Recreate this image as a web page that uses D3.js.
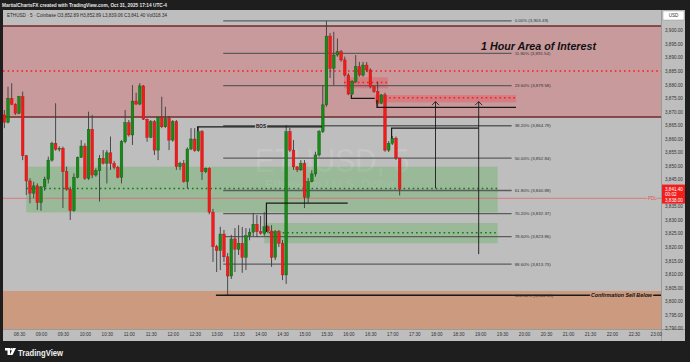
<!DOCTYPE html>
<html>
<head>
<meta charset="utf-8">
<script src="https://cdn.jsdelivr.net/npm/d3@7"></script>
<style>
  body { margin: 0; background: #1e1e1e; }
  svg { display: block; }
  text { font-family: "Liberation Sans", Arial, sans-serif; }
</style>
</head>
<body>
<svg id="chart" width="690" height="362"></svg>
<script>
// ETHUSD 5m candles, 08:10 -> 17:10 (Oct 31, 2025)
const openPrices = [3868.8,3866.1,3874.9,3872.7,3869.4,3875.5,3853.7,3844.4,3839.9,3842.6,3836.4,3842.2,3845.1,3852.1,3858.3,3856.1,3856.5,3847.8,3841.3,3833.4,
  3845.8,3853.1,3857.3,3845.4,3863.5,3846.6,3848.2,3852.8,3850.9,3854.8,3850.9,3849.4,3845.8,3858.9,3865.9,3861.4,3873.9,3872.8,3879.5,3867.2,
  3860.5,3866.3,3855.8,3867.9,3864.4,3867.5,3859.5,3866.3,3849.7,3850.9,3844.1,3856.2,3859.9,3855.6,3862.6,3847.8,3849.1,3832.9,3820.1,3818.7,
  3824.8,3816.4,3809.3,3823.0,3819.2,3821.4,3816.2,3824.2,3825.5,3828.4,3825.7,3825.1,3827.5,3825.9,3816.2,3825.7,3821.4,3809.7,3862.6,3855.8,
  3849.6,3848.5,3850.9,3838.4,3844.1,3847.0,3854.0,3862.6,3872.5,3897.9,3886.0,3890.9,3892.1,3889.1,3883.5,3876.5,3881.1,3886.6,3883.5,3887.2,
  3885.4,3879.2,3877.4,3873.1,3876.2,3855.8,3858.3,3860.2,3852.89];
const highPrices = [3870.6,3879.2,3880.5,3873.1,3875.8,3877.4,3854.0,3845.4,3844.1,3843.5,3842.5,3846.0,3853.4,3858.9,3873.1,3857.2,3857.1,3849.7,3842.3,3847.2,
  3853.4,3859.5,3858.3,3870.0,3868.8,3849.1,3854.0,3855.8,3855.8,3860.8,3851.8,3850.0,3859.5,3870.6,3866.9,3879.8,3877.0,3880.5,3879.8,3867.5,
  3866.9,3866.9,3868.1,3875.5,3871.8,3868.4,3866.9,3866.9,3851.5,3852.1,3856.8,3863.9,3863.9,3864.4,3863.2,3849.4,3849.5,3834.1,3820.8,3827.5,
  3826.3,3817.8,3824.5,3827.0,3828.1,3827.4,3827.0,3826.9,3832.6,3831.8,3831.5,3832.9,3828.0,3828.1,3826.3,3826.3,3822.6,3865.1,3864.0,3859.5,
  3849.9,3852.1,3852.1,3845.5,3848.4,3855.2,3863.2,3879.8,3903.49,3899.0,3899.5,3897.0,3892.8,3890.3,3884.2,3881.7,3890.9,3888.4,3888.4,3888.3,
  3886.0,3879.5,3881.1,3876.5,3877.0,3859.1,3861.0,3860.8,3852.89];
const lowPrices = [3863.9,3865.7,3872.4,3868.8,3869.1,3852.1,3839.2,3836.2,3838.0,3833.7,3833.4,3840.8,3843.5,3851.5,3855.6,3855.3,3834.4,3840.8,3830.0,3833.0,
  3845.4,3852.9,3844.8,3844.8,3845.4,3846.0,3836.8,3850.5,3843.5,3848.5,3848.7,3845.4,3843.5,3858.3,3860.8,3857.7,3872.5,3872.4,3866.9,3858.9,
  3860.2,3854.0,3852.1,3863.9,3864.0,3855.8,3858.9,3848.5,3848.4,3843.8,3841.7,3855.8,3855.2,3855.2,3844.8,3847.3,3832.1,3814.5,3810.8,3811.5,
  3814.5,3802.18,3808.2,3810.8,3817.1,3810.5,3811.5,3822.5,3824.0,3823.7,3824.6,3824.1,3825.2,3812.7,3815.2,3820.0,3807.8,3806.4,3855.1,3848.5,
  3847.7,3848.1,3834.4,3836.3,3843.9,3846.0,3853.4,3862.1,3871.8,3882.4,3879.8,3890.3,3888.4,3882.9,3876.1,3876.1,3880.5,3882.9,3882.9,3884.6,
  3878.6,3876.9,3871.8,3872.8,3855.2,3855.1,3857.7,3852.1,3839.06];
const closePrices = [3866.1,3874.9,3872.7,3869.4,3875.5,3853.7,3844.4,3839.9,3842.6,3836.4,3842.2,3845.1,3852.1,3858.3,3856.1,3856.5,3847.8,3841.3,3833.4,3845.8,
  3853.1,3857.3,3845.4,3863.5,3846.6,3848.2,3852.8,3850.9,3854.8,3850.9,3849.4,3845.8,3858.9,3865.9,3861.4,3873.9,3872.8,3879.5,3867.2,3860.5,
  3866.3,3855.8,3867.9,3864.4,3867.5,3859.5,3866.3,3849.7,3850.9,3844.1,3856.2,3859.9,3855.6,3862.6,3847.8,3849.1,3832.9,3820.1,3818.7,3824.8,
  3816.4,3809.3,3823.0,3819.2,3821.4,3816.2,3824.2,3825.5,3828.4,3825.7,3825.1,3827.5,3825.9,3816.2,3825.7,3821.4,3809.7,3862.6,3855.8,3849.6,
  3848.5,3850.9,3838.4,3844.1,3847.0,3854.0,3862.6,3872.5,3897.9,3886.0,3890.9,3892.1,3889.1,3883.5,3876.5,3881.1,3886.6,3883.5,3887.2,3885.4,
  3879.2,3877.4,3873.1,3876.2,3855.8,3858.3,3860.2,3852.89,3841.40];

const priceTicks = [3790,3795,3800,3805,3810,3815,3820,3825,3830,3835,3840,3845,3850,3855,3860,3865,3870,3875,3880,3885,3890,3895,3900];
const timeTickLabels = ["08:30","09:00","09:30","10:00","10:30","11:00","11:30","12:00","12:30","13:00","13:30","14:00","14:30","15:00","15:30",
  "16:00","16:30","17:00","17:30","18:00","18:30","19:00","19:30","20:00","20:30","21:00","21:30","22:00","22:30","23:00"];

// Fibonacci retracement (high 3,903.49 -> low 3,802.18)
const fibLevels = [0, 0.118, 0.236, 0.382, 0.5, 0.618, 0.702, 0.786, 0.886, 1];
const fibPrices = [3903.49, 3891.54, 3879.58, 3864.79, 3852.84, 3840.88, 3832.37, 3823.86, 3813.73, 3802.18];

// Zones: [start, end, top price, bottom price]
const greenZones = [["08:40", "19:24", 3849.7, 3832.8], ["14:05", "19:24", 3828.9, 3821.4]];
const greenDotted = [["08:40", "19:24", 3841.6], ["14:05", "19:24", 3825.3]];
const smallRedZones = [["15:54", "16:54", 3882.7, 3878.6], ["16:36", "19:49", 3876.1, 3873.4]];
const redDotted = [["15:54", "16:54", 3880.8], ["16:43", "19:49", 3875.1]];
const areaOfInterest = [3901.6, 3868.0];
const aoiLevel = 3885.0;
const sellZoneTop = 3803.8;
const pdlPrice = 3838.0;

// Structure lines: [time, price] points
const structureLines = [
  [["12:34", 3862.8], ["12:34", 3864.4], ["15:24", 3864.4]],
  [["14:08", 3825.6], ["14:08", 3836.2], ["15:59", 3836.2]],
  [["16:04", 3876.2], ["16:04", 3874.9], ["16:36", 3874.9]],
  [["16:39", 3874.3], ["16:39", 3871.6], ["19:49", 3871.6]],
  [["16:59", 3860.2], ["16:59", 3863.9], ["18:58", 3863.9]]
];
const arrows = [["17:59", 3841.7, 3873.7], ["18:58", 3817.4, 3873.7]];

const svg = d3.select('#chart');
const W = 690, H = 362;
const plotL = 3, plotR = 661, plotT = 10, plotB = 329, axisR = 685, timeB = 341;

const at = (s) => {
  const [h, m, sec] = s.split(':').map(Number);
  return new Date(2025, 9, 31, h, m, sec || 0);
};

const xScale = d3.scaleTime()
  .domain([at("08:04:02"), at("23:07:03")])
  .range([0, plotR]);
const yScale = d3.scaleLinear()
  .domain([3790, 3900])
  .range([328.3, 30.4]);

// Background panels
svg.append('rect').attr('width', W).attr('height', H).attr('fill', '#1e1e1e');
svg.append('rect')
  .attr('x', plotL).attr('y', plotT)
  .attr('width', axisR - plotL).attr('height', timeB - plotT)
  .attr('fill', '#bebebe');

svg.append('defs').append('clipPath').attr('id', 'plot-clip')
  .append('rect')
  .attr('x', plotL).attr('y', plotT)
  .attr('width', plotR - plotL).attr('height', plotB - plotT);

const plot = svg.append('g').attr('clip-path', 'url(#plot-clip)');

// Watermark
plot.append('text')
  .attr('x', 332).attr('y', 172)
  .attr('text-anchor', 'middle')
  .attr('font-size', 34)
  .attr('textLength', 155).attr('lengthAdjust', 'spacingAndGlyphs')
  .attr('fill', '#ffffff').attr('fill-opacity', 0.12)
  .text('ETHUSD, 5');
plot.append('text')
  .attr('x', 330).attr('y', 188)
  .attr('text-anchor', 'middle')
  .attr('font-size', 11)
  .attr('textLength', 130).attr('lengthAdjust', 'spacingAndGlyphs')
  .attr('fill', '#ffffff').attr('fill-opacity', 0.12)
  .text('Ethereum / U.S. Dollar');

// 1 hour area of interest
plot.append('rect')
  .attr('x', plotL).attr('width', plotR - plotL)
  .attr('y', yScale(areaOfInterest[0]))
  .attr('height', yScale(areaOfInterest[1]) - yScale(areaOfInterest[0]))
  .attr('fill', 'rgba(230,60,70,0.28)');
areaOfInterest.forEach(p => {
  plot.append('line')
    .attr('x1', plotL).attr('x2', plotR)
    .attr('y1', yScale(p)).attr('y2', yScale(p))
    .attr('stroke', '#6e2b2b').attr('stroke-width', 1.4);
});

// Sell confirmation zone
plot.append('rect')
  .attr('x', plotL).attr('width', plotR - plotL)
  .attr('y', yScale(sellZoneTop))
  .attr('height', plotB - yScale(sellZoneTop))
  .attr('fill', 'rgba(220,110,50,0.45)');

// Small red zones
smallRedZones.forEach(z => {
  plot.append('rect')
    .attr('x', xScale(at(z[0]))).attr('width', xScale(at(z[1])) - xScale(at(z[0])))
    .attr('y', yScale(z[2])).attr('height', yScale(z[3]) - yScale(z[2]))
    .attr('fill', 'rgba(240,60,70,0.3)');
});

// Green zones
greenZones.forEach(z => {
  plot.append('rect')
    .attr('x', xScale(at(z[0]))).attr('width', xScale(at(z[1])) - xScale(at(z[0])))
    .attr('y', yScale(z[2])).attr('height', yScale(z[3]) - yScale(z[2]))
    .attr('fill', 'rgba(70,175,70,0.3)');
});

// Previous day low line
plot.append('line')
  .attr('x1', plotL).attr('x2', plotR)
  .attr('y1', yScale(pdlPrice)).attr('y2', yScale(pdlPrice))
  .attr('stroke', '#e06868').attr('stroke-width', 0.8);
plot.append('text')
  .attr('x', 648).attr('y', yScale(pdlPrice))
  .attr('dy', '0.35em')
  .attr('font-size', 4.5)
  .attr('fill', '#e05050')
  .attr('stroke', '#bebebe').attr('stroke-width', 2).attr('paint-order', 'stroke')
  .text('PDL');

// Dotted levels
plot.append('line')
  .attr('x1', plotL).attr('x2', plotR)
  .attr('y1', yScale(aoiLevel)).attr('y2', yScale(aoiLevel))
  .attr('stroke', '#ff1a1a').attr('stroke-width', 1.5)
  .attr('stroke-dasharray', '1.6,3');
redDotted.forEach(d => {
  plot.append('line')
    .attr('x1', xScale(at(d[0]))).attr('x2', xScale(at(d[1])))
    .attr('y1', yScale(d[2])).attr('y2', yScale(d[2]))
    .attr('stroke', '#ff1a1a').attr('stroke-width', 1.5)
    .attr('stroke-dasharray', '1.6,3');
});
greenDotted.forEach(d => {
  plot.append('line')
    .attr('x1', xScale(at(d[0]))).attr('x2', xScale(at(d[1])))
    .attr('y1', yScale(d[2])).attr('y2', yScale(d[2]))
    .attr('stroke', '#137a13').attr('stroke-width', 1.5)
    .attr('stroke-dasharray', '1.6,3');
});

// Fibonacci lines
const fibStart = at("13:09"), fibEnd = at("19:43");
fibPrices.forEach((p, i) => {
  plot.append('line')
    .attr('x1', xScale(fibStart)).attr('x2', xScale(fibEnd))
    .attr('y1', yScale(p)).attr('y2', yScale(p))
    .attr('stroke', '#5c5c5c').attr('stroke-width', 1.3);
});

// Candles
const candleTimes = d3.timeMinute.every(5).range(at("08:10"), at("17:15"));
const bars = candleTimes.map((t, i) => ({
  t, o: openPrices[i], h: highPrices[i], l: lowPrices[i], c: closePrices[i]
}));

const candles = plot.append('g');
candles.selectAll('line.wick')
  .data(bars)
  .enter().append('line')
  .attr('class', 'wick')
  .attr('x1', d => xScale(d.t)).attr('x2', d => xScale(d.t))
  .attr('y1', d => yScale(d.h)).attr('y2', d => yScale(d.l))
  .attr('stroke', '#3c3c3c').attr('stroke-width', 0.9);
candles.selectAll('rect.body')
  .data(bars)
  .enter().append('rect')
  .attr('class', 'body')
  .attr('x', d => xScale(d.t) - 1.35)
  .attr('width', 2.7)
  .attr('y', d => yScale(Math.max(d.o, d.c)))
  .attr('height', d => Math.max(0.7, Math.abs(yScale(d.o) - yScale(d.c))))
  .attr('fill', d => d.c >= d.o ? '#178a17' : '#f01c1c')
  .attr('stroke', d => d.c >= d.o ? '#0d5a0d' : '#c01010')
  .attr('stroke-width', 0.4);

// Structure lines
const lineGen = d3.line().x(d => xScale(at(d[0]))).y(d => yScale(d[1]));
structureLines.forEach(pts => {
  plot.append('path')
    .attr('d', lineGen(pts))
    .attr('fill', 'none')
    .attr('stroke', '#1a1a1a').attr('stroke-width', 1.2);
});

// Arrows
arrows.forEach(a => {
  const ax = xScale(at(a[0]));
  plot.append('line')
    .attr('x1', ax).attr('x2', ax)
    .attr('y1', yScale(a[1])).attr('y2', yScale(a[2]))
    .attr('stroke', '#1a1a1a').attr('stroke-width', 0.9);
  plot.append('path')
    .attr('d', `M${ax - 3.5},${yScale(a[2]) + 3.5} L${ax},${yScale(a[2])} L${ax + 3.5},${yScale(a[2]) + 3.5}`)
    .attr('fill', 'none')
    .attr('stroke', '#1a1a1a').attr('stroke-width', 0.9);
});

// Confirmation line
plot.append('line')
  .attr('x1', xScale(at("12:59"))).attr('x2', plotR)
  .attr('y1', yScale(fibPrices[9])).attr('y2', yScale(fibPrices[9]))
  .attr('stroke', '#1a1a1a').attr('stroke-width', 1.4);

// Fib labels
fibPrices.forEach((p, i) => {
  plot.append('text')
    .attr('x', xScale(fibEnd) + 3).attr('y', yScale(p))
    .attr('dy', '0.35em')
    .attr('font-size', 4.4)
    .attr('fill', '#333')
    .text(`${(fibLevels[i] * 100).toFixed(2)}% (${d3.format(',.2f')(p)})`);
});

// BOS label
plot.append('text')
  .attr('x', 261).attr('y', yScale(structureLines[0][2][1]))
  .attr('dy', '0.35em')
  .attr('text-anchor', 'middle')
  .attr('font-size', 4.6).attr('font-weight', 'bold')
  .attr('fill', '#111')
  .attr('stroke', '#bebebe').attr('stroke-width', 2.4).attr('paint-order', 'stroke')
  .text('BOS');

// Confirmation label
plot.append('text')
  .attr('x', 591).attr('y', yScale(fibPrices[9]))
  .attr('dy', '0.35em')
  .attr('font-size', 5.2).attr('font-weight', 'bold').attr('font-style', 'italic')
  .attr('textLength', 61).attr('lengthAdjust', 'spacingAndGlyphs')
  .attr('fill', '#111')
  .attr('stroke', '#cb9a7f').attr('stroke-width', 2.4).attr('paint-order', 'stroke')
  .text('Confirmation Sell Below');

// Area of interest title
plot.append('text')
  .attr('x', 481).attr('y', 50)
  .attr('font-family', '"DejaVu Sans", sans-serif')
  .attr('font-size', 10).attr('font-weight', 'bold').attr('font-style', 'italic')
  .attr('textLength', 115).attr('lengthAdjust', 'spacingAndGlyphs')
  .attr('fill', '#111')
  .text('1 Hour Area of Interest');

// Axis panels
svg.append('line')
  .attr('x1', plotR + 0.5).attr('x2', plotR + 0.5)
  .attr('y1', plotT).attr('y2', timeB)
  .attr('stroke', '#9a9a9a').attr('stroke-width', 1);
svg.append('line')
  .attr('x1', plotL).attr('x2', axisR)
  .attr('y1', plotB + 0.5).attr('y2', plotB + 0.5)
  .attr('stroke', '#9a9a9a').attr('stroke-width', 1);

// Last price label box spans these pixels on the price axis
const boxTop = yScale(closePrices[108]) - 4.5, boxBottom = boxTop + 19;

const yAxis = svg.append('g')
  .attr('transform', `translate(${plotR},0)`)
  .call(d3.axisRight(yScale)
    .tickValues(priceTicks.filter(p => yScale(p) < boxTop - 2 || yScale(p) > boxBottom + 2))
    .tickFormat(d3.format(',.2f')).tickSize(0).tickPadding(4));
yAxis.select('.domain').remove();
yAxis.selectAll('text')
  .attr('font-size', 4.6)
  .attr('font-family', '"Liberation Sans", Arial, sans-serif')
  .attr('fill', '#333');

const xAxis = svg.append('g')
  .attr('transform', `translate(0,${plotB})`)
  .call(d3.axisBottom(xScale).tickValues(timeTickLabels.map(s => at(s))).tickFormat(d3.timeFormat('%H:%M')).tickSize(0).tickPadding(4));
xAxis.select('.domain').remove();
xAxis.selectAll('text')
  .attr('font-size', 4.6)
  .attr('font-family', '"Liberation Sans", Arial, sans-serif')
  .attr('fill', '#333');

// Last price label
const lastBox = svg.append('g');
lastBox.append('rect')
  .attr('x', plotR + 1).attr('y', boxTop)
  .attr('width', axisR - plotR - 1).attr('height', boxBottom - boxTop)
  .attr('fill', '#f21d1d');
[[d3.format(',.2f')(closePrices[108]), 0], ['00:02', 5.3], [d3.format(',.2f')(pdlPrice), 11]].forEach(([t, dy]) => {
  lastBox.append('text')
    .attr('x', plotR + 4).attr('y', yScale(closePrices[108]) + dy)
    .attr('dy', '0.35em')
    .attr('font-size', 4.6)
    .attr('fill', '#fff')
    .text(t);
});

// USD box
svg.append('rect')
  .attr('x', 663).attr('y', 11).attr('width', 21).attr('height', 9)
  .attr('fill', '#fff').attr('stroke', '#999').attr('stroke-width', 0.5);
svg.append('text')
  .attr('x', 673.5).attr('y', 15.5).attr('dy', '0.35em')
  .attr('text-anchor', 'middle')
  .attr('font-size', 4.6).attr('fill', '#333')
  .text('USD');

// Header texts
svg.append('text')
  .attr('x', 2).attr('y', 7.2)
  .attr('font-size', 5.2).attr('font-weight', 'bold')
  .attr('textLength', 165).attr('lengthAdjust', 'spacingAndGlyphs')
  .attr('fill', '#e6e6e6')
  .text('MartialChartsFX created with TradingView.com, Oct 31, 2025 17:14 UTC-4');
svg.append('text')
  .attr('x', 7).attr('y', 17)
  .attr('font-size', 4.6)
  .attr('textLength', 160).attr('lengthAdjust', 'spacingAndGlyphs')
  .attr('fill', '#2a2a2a')
  .text('ETHUSD · 5 · Coinbase   O3,852.89   H3,852.89   L3,839.06   C3,841.40   Vol318.34');

// TradingView footer logo
const logo = svg.append('g').attr('transform', 'translate(5,348)');
logo.append('path').attr('d', 'M0,0 H5 V7 H2.5 V2.5 H0 Z').attr('fill', '#fff');
logo.append('circle').attr('cx', 6.5).attr('cy', 1.3).attr('r', 1.3).attr('fill', '#fff');
logo.append('path').attr('d', 'M8,0 H11 L7.5,7 H4.8 Z').attr('fill', '#fff');
svg.append('text')
  .attr('x', 18).attr('y', 355.5)
  .attr('font-size', 8.5).attr('font-weight', 'bold')
  .attr('textLength', 45).attr('lengthAdjust', 'spacingAndGlyphs')
  .attr('fill', '#f2f2f2')
  .text('TradingView');
</script>
</body>
</html>
